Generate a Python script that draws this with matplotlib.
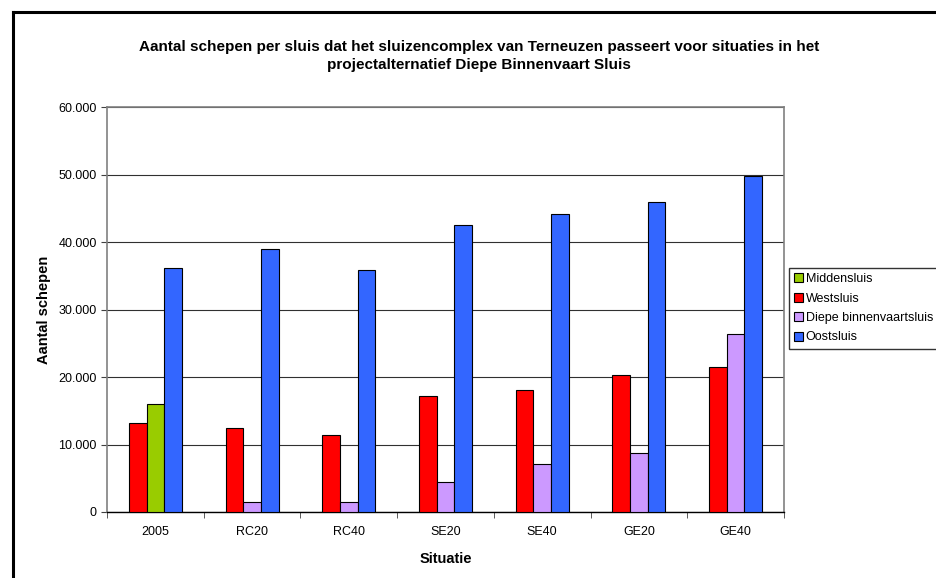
import numpy as np
import matplotlib
matplotlib.use("Agg")
import matplotlib.pyplot as plt
from matplotlib.patches import Patch
from matplotlib.lines import Line2D
from matplotlib.ticker import FuncFormatter

plt.rcParams['font.family'] = ['Liberation Sans', 'DejaVu Sans']

situaties = ['2005', 'RC20', 'RC40', 'SE20', 'SE40', 'GE20', 'GE40']
westsluis = [13200, 12400, 11400, 17200, 18050, 20250, 21500]
middensluis = [16000, 0, 0, 0, 0, 0, 0]
diepe = [0, 1450, 1450, 4400, 7100, 8750, 26300]
oostsluis = [36200, 38900, 35900, 42500, 44200, 45900, 49800]

kleuren = {
    'Middensluis': '#99CC00',
    'Westsluis': '#FF0000',
    'Diepe binnenvaartsluis': '#CC99FF',
    'Oostsluis': '#3366FF',
}

W, H = 937, 578
fig = plt.figure(figsize=(W / 100, H / 100), dpi=100)
ax = fig.add_axes([107 / W, (H - 512) / H, 677 / W, 405 / H])

x = np.arange(len(situaties))
w = 0.183
kw = dict(edgecolor='black', linewidth=0.8, zorder=3)

ax.bar(x - w, westsluis, w, color=kleuren['Westsluis'], **kw)
m = np.array(middensluis) > 0
ax.bar(x[m], np.array(middensluis)[m], w, color=kleuren['Middensluis'], **kw)
d = np.array(diepe) > 0
ax.bar(x[d], np.array(diepe)[d], w, color=kleuren['Diepe binnenvaartsluis'], **kw)
ax.bar(x + w, oostsluis, w, color=kleuren['Oostsluis'], **kw)

ax.set_xlim(-0.5, len(situaties) - 0.5)
ax.set_ylim(0, 60000)
ax.set_yticks(np.arange(0, 60001, 10000))
ax.yaxis.set_major_formatter(FuncFormatter(lambda v, p: f"{int(v):,}".replace(',', '.')))
ax.set_xticks(x)
ax.set_xticklabels(situaties, fontsize=9)
ax.set_xticks(np.arange(-0.5, len(situaties)), minor=True)
ax.tick_params(axis='x', which='major', length=0, pad=10)
ax.tick_params(axis='x', which='minor', length=4, direction='out', color='#404040')
ax.tick_params(axis='y', length=4, direction='out', labelsize=9, color='#404040')

ax.grid(axis='y', color='#303030', linewidth=0.8, zorder=0)
ax.set_axisbelow(True)
for s in ['left', 'top', 'right']:
    ax.spines[s].set_color('#808080')
    ax.spines[s].set_linewidth(1.2)
ax.spines['bottom'].set_color('black')
ax.spines['bottom'].set_linewidth(1.0)

ax.set_xlabel('Situatie', fontsize=10.5, fontweight='bold', labelpad=10)
ax.set_ylabel('Aantal schepen', fontsize=10.5, fontweight='bold', labelpad=5)

fig.text(479 / W, 1 - 56 / H,
         'Aantal schepen per sluis dat het sluizencomplex van Terneuzen passeert voor situaties in het\n'
         'projectalternatief Diepe Binnenvaart Sluis',
         ha='center', va='center', fontsize=11, fontweight='bold', linespacing=1.45)

handles = [Patch(facecolor=kleuren[k], edgecolor='black', linewidth=0.8, label=k) for k in kleuren]
leg = fig.legend(handles=handles, loc='upper left', bbox_to_anchor=(789 / W, 1 - 268 / H),
                 fontsize=9, frameon=True, fancybox=False, edgecolor='black',
                 handlelength=0.7, handleheight=0.7, handletextpad=0.25,
                 labelspacing=0.6, borderpad=0.4, borderaxespad=0)
leg.get_frame().set_linewidth(1.0)

# kader rond de grafiek
fig.add_artist(Line2D([13 / W, 1], [1 - 12 / H, 1 - 12 / H], color='black', linewidth=2.2))
fig.add_artist(Line2D([13 / W, 13 / W], [0, 1 - 12 / H], color='black', linewidth=2.2))

fig.savefig('out.png', dpi=100)
